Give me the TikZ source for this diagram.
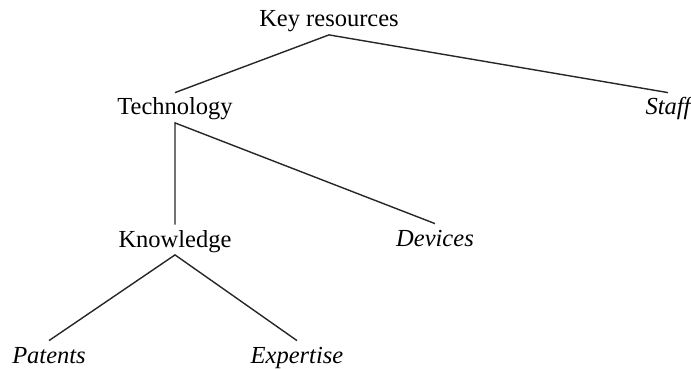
\documentclass[tikz,border=0pt]{standalone}
\usepackage{fontspec}
\setmainfont{Liberation Serif}
\begin{document}
\begin{tikzpicture}[x=0.5pt,y=-0.5pt,
  item/.style={inner sep=0pt, text height=11pt, text depth=3.75pt,
    font=\fontsize{12.25}{14}\selectfont},
  leaf/.style={item, font=\fontsize{12.25}{14}\selectfont\itshape},
  branch/.style={draw=black!85, line width=0.7pt}]
\useasboundingbox (0,0) rectangle (691,369);
% tree nodes, placed by baseline
\node[item, anchor=base] (key)  at (329,27)  {Key resources};
\node[item, anchor=base] (tech) at (175,115) {Technology};
\node[leaf, anchor=base] (staff) at (668,115) {Staff};
\node[item, anchor=base] (know) at (175,247) {Knowledge};
\node[leaf, anchor=base] (dev)  at (435,246) {Devices};
\node[leaf, anchor=base] (pat)  at (49,363)  {Patents};
\node[leaf, anchor=base] (exp)  at (297,363) {Expertise};
% branches
\draw[branch] (tech.north) -- (key.south) -- (staff.north);
\draw[branch] (know.north) -- (tech.south) -- (dev.north);
\draw[branch] (pat.north) -- (know.south) -- (exp.north);
\end{tikzpicture}
\end{document}
